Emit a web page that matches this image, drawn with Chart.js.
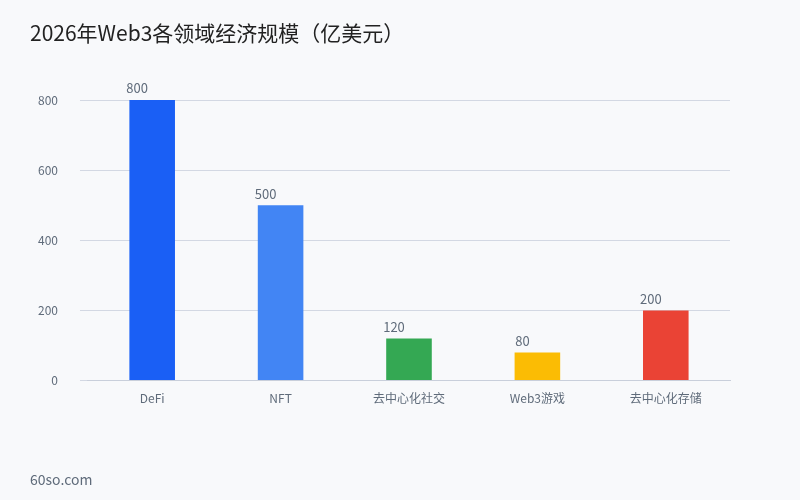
<!DOCTYPE html>
<html><head><meta charset="utf-8">
<script src="https://cdn.jsdelivr.net/npm/chart.js@4"></script>
<style>html,body{margin:0;background:#f8f9fb}#c{display:block}</style>
</head><body>
<div style="width:800px;height:500px"><canvas id="c" width="800" height="500"></canvas></div>
<script>
const categories=["DeFi","NFT","去中心化社交","Web3游戏","去中心化存储"];
const values=[800,500,120,80,200];
const colors=["#1a5ff5","#4285f4","#34a853","#fbbc04","#ea4335"];
const font="'Noto Sans CJK SC','Noto Sans',sans-serif";
const deco={id:'deco',afterDatasetsDraw(ch){
  const c=ch.ctx;c.save();
  c.fillStyle='#5f6b7a';c.font='13px '+font;c.textAlign='center';c.textBaseline='bottom';
  ch.getDatasetMeta(0).data.forEach((b,i)=>c.fillText(values[i],b.x-15,b.y-5));
  c.textAlign='left';c.textBaseline='middle';
  c.fillStyle='#222';c.font='21px '+font;c.fillText('2026年Web3各领域经济规模（亿美元）',30,33);
  c.fillStyle='#5f6b7a';c.font='14px '+font;c.fillText('60so.com',30,480);
  c.restore();}};
new Chart(document.getElementById('c'),{type:'bar',
data:{labels:categories,datasets:[{data:values,backgroundColor:colors,barPercentage:0.71,categoryPercentage:0.5}]},
options:{responsive:false,animation:false,
layout:{padding:{left:16,right:70,top:100,bottom:91}},
plugins:{legend:{display:false},tooltip:{enabled:false}},
scales:{
 x:{grid:{display:false},border:{color:'#c9cfdb'},ticks:{color:'#5f6b7a',font:{size:12,family:font}}},
 y:{min:0,max:800,ticks:{stepSize:200,color:'#5f6b7a',padding:22,font:{size:12,family:font}},grid:{color:'#d3d8e3'},border:{display:false}}}},
plugins:[deco]});
</script></body></html>
